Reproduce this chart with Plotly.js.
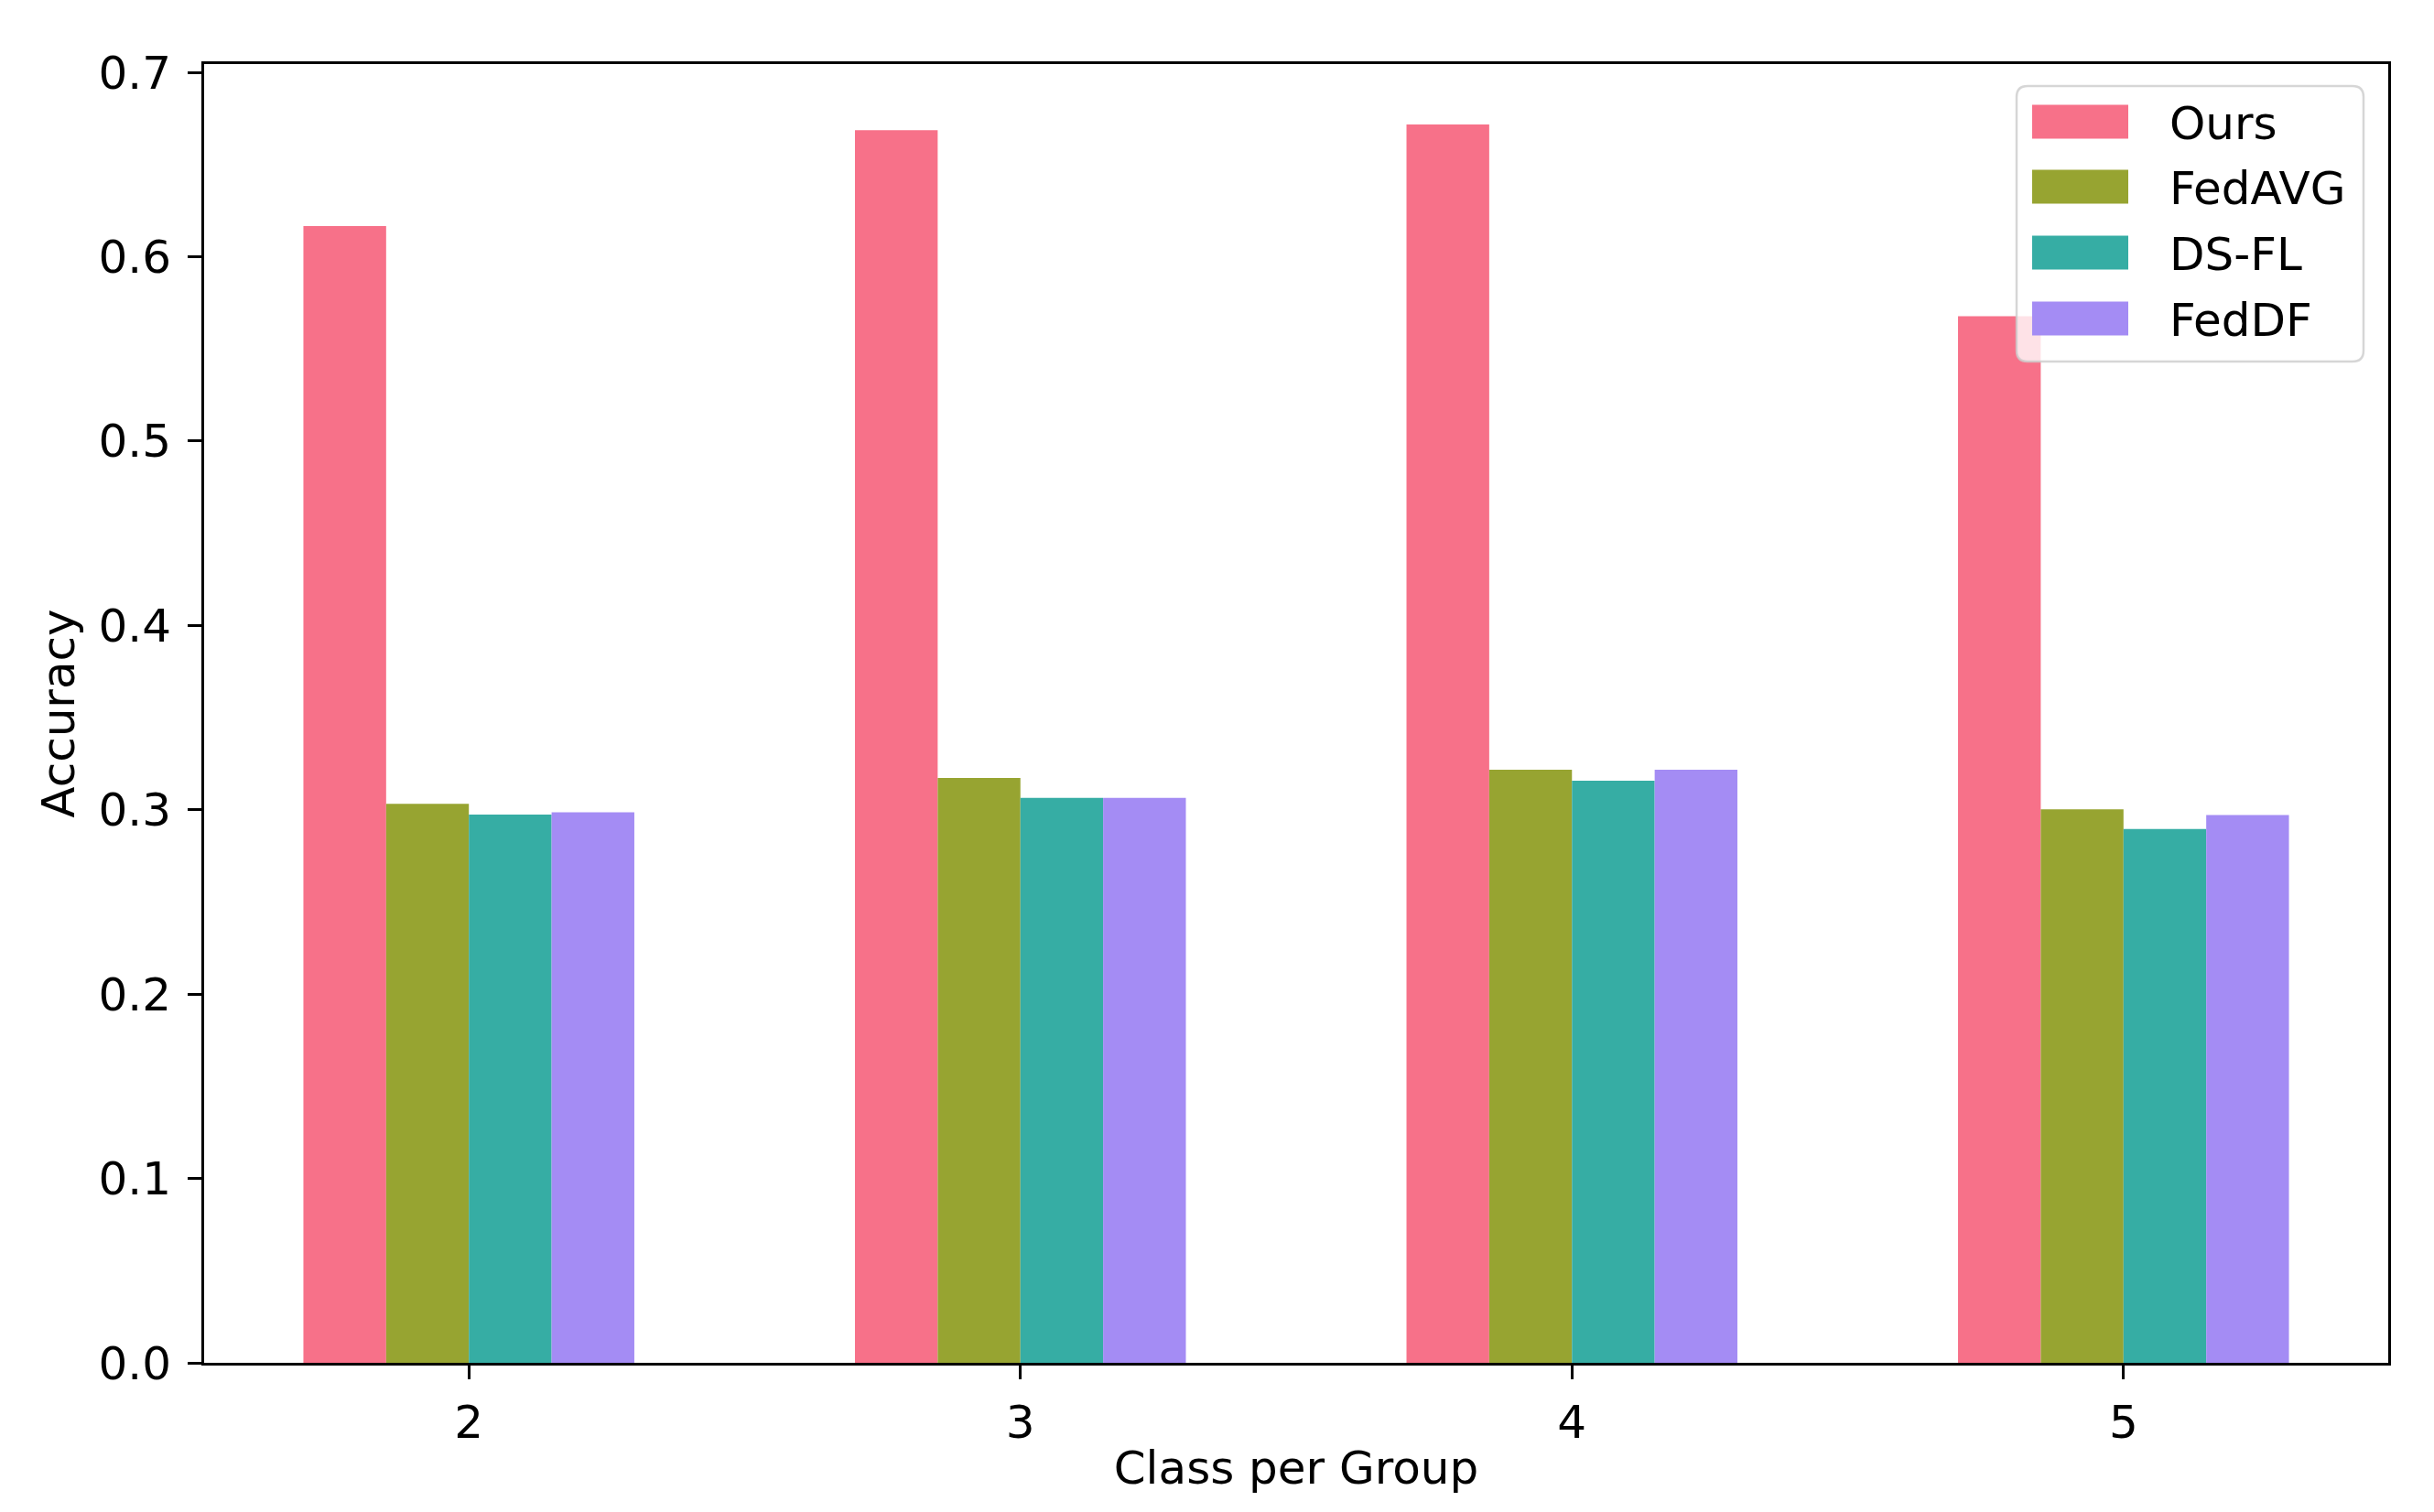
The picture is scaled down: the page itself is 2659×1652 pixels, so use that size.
<!DOCTYPE html>
<html>
<head>
<meta charset="utf-8">
<script src="https://cdn.plot.ly/plotly-3.0.1.min.js"></script>
<style>
  html, body { margin: 0; padding: 0; background: #ffffff; }
  #chart { width: 2659px; height: 1652px; }
</style>
</head>
<body>
<div id="chart"></div>
<script>
// ---- data ----
const classesPerGroup = [2, 3, 4, 5];
const seriesNames = ["Ours", "FedAVG", "DS-FL", "FedDF"];
const oursAcc   = [0.6166, 0.6686, 0.6717, 0.5677];
const fedavgAcc = [0.3032, 0.3172, 0.3217, 0.3003];
const dsflAcc   = [0.2974, 0.3065, 0.3157, 0.2896];
const feddfAcc  = [0.2986, 0.3065, 0.3217, 0.2972];
const seriesColors = ["#f77189", "#97a431", "#36ada4", "#a48cf4"];
const yTickVals = [0.0, 0.1, 0.2, 0.3, 0.4, 0.5, 0.6, 0.7];

const seriesValues = [oursAcc, fedavgAcc, dsflAcc, feddfAcc];

const FONT = "DejaVu Sans, Liberation Sans, sans-serif";

const traces = seriesNames.map((name, i) => ({
  type: "bar",
  name: name,
  x: classesPerGroup,
  y: seriesValues[i],
  marker: { color: seriesColors[i], line: { width: 0 } },
  showlegend: false,
  hoverinfo: "x+y+name"
}));

// ---- custom legend (matplotlib-style large patches) ----
const W = 2659, H = 1652;
const mL = 223, mR = 50, mT = 70, mB = 162.5;
const pw = W - mL - mR, ph = H - mT - mB;
const px = v => (v - mL) / pw;          // pixel -> paper x
const py = v => (H - mB - v) / ph;      // pixel -> paper y

const shapes = [];
const annotations = [];

// legend frame with rounded corners
(function () {
  const x0 = px(2203), x1 = px(2582), y0 = py(395), y1 = py(94);
  const rx = 12 / pw, ry = 12 / ph;
  const path =
    `M ${x0 + rx} ${y1} L ${x1 - rx} ${y1} Q ${x1} ${y1} ${x1} ${y1 - ry} ` +
    `L ${x1} ${y0 + ry} Q ${x1} ${y0} ${x1 - rx} ${y0} ` +
    `L ${x0 + rx} ${y0} Q ${x0} ${y0} ${x0} ${y0 + ry} ` +
    `L ${x0} ${y1 - ry} Q ${x0} ${y1} ${x0 + rx} ${y1} Z`;
  shapes.push({
    type: "path", xref: "paper", yref: "paper", path: path,
    fillcolor: "rgba(255,255,255,0.8)",
    line: { color: "rgba(204,204,204,0.8)", width: 2.5 },
    layer: "above"
  });
})();

const rowCenters = [133, 204, 276, 348];
seriesNames.forEach((name, i) => {
  const yc = rowCenters[i];
  shapes.push({
    type: "rect", xref: "paper", yref: "paper",
    x0: px(2220), x1: px(2325), y0: py(yc + 18.5), y1: py(yc - 18.5),
    fillcolor: seriesColors[i], line: { width: 0 }, layer: "above"
  });
  annotations.push({
    xref: "paper", yref: "paper", x: px(2368), y: py(yc + 2),
    xanchor: "left", yanchor: "middle", showarrow: false,
    text: name, font: { family: FONT, size: 50, color: "#000000" }
  });
});

const layout = {
  width: W, height: H,
  margin: { l: mL, r: mR, t: mT, b: mB, pad: 0 },
  paper_bgcolor: "#ffffff",
  plot_bgcolor: "#ffffff",
  barmode: "group",
  bargap: 0.4,
  bargroupgap: 0,
  font: { family: FONT, size: 50, color: "#000000" },
  xaxis: {
    range: [1.52, 5.48],
    tickmode: "array",
    tickvals: classesPerGroup,
    ticktext: classesPerGroup.map(String),
    ticks: "outside", ticklen: 15, tickwidth: 3, tickcolor: "#000000",
    showline: true, linecolor: "#000000", linewidth: 3, mirror: true,
    showgrid: false, zeroline: false,
    tickfont: { family: FONT, size: 50, color: "#000000" },
    ticklabelstandoff: 4,
    title: { text: "Class per Group", font: { family: FONT, size: 50, color: "#000000" }, standoff: 4 },
    automargin: false
  },
  yaxis: {
    range: [0, 0.7045],
    tickmode: "array",
    tickvals: yTickVals,
    ticktext: yTickVals.map(v => v.toFixed(1)),
    ticks: "outside", ticklen: 15, tickwidth: 3, tickcolor: "#000000",
    showline: true, linecolor: "#000000", linewidth: 3, mirror: true,
    showgrid: false, zeroline: false,
    tickfont: { family: FONT, size: 50, color: "#000000" },
    ticklabelstandoff: 8,
    title: { text: "Accuracy", font: { family: FONT, size: 50, color: "#000000" }, standoff: 10 },
    automargin: false
  },
  shapes: shapes,
  annotations: annotations,
  showlegend: false
};

Plotly.newPlot("chart", traces, layout, { displayModeBar: false, staticPlot: true });
</script>
</body>
</html>
